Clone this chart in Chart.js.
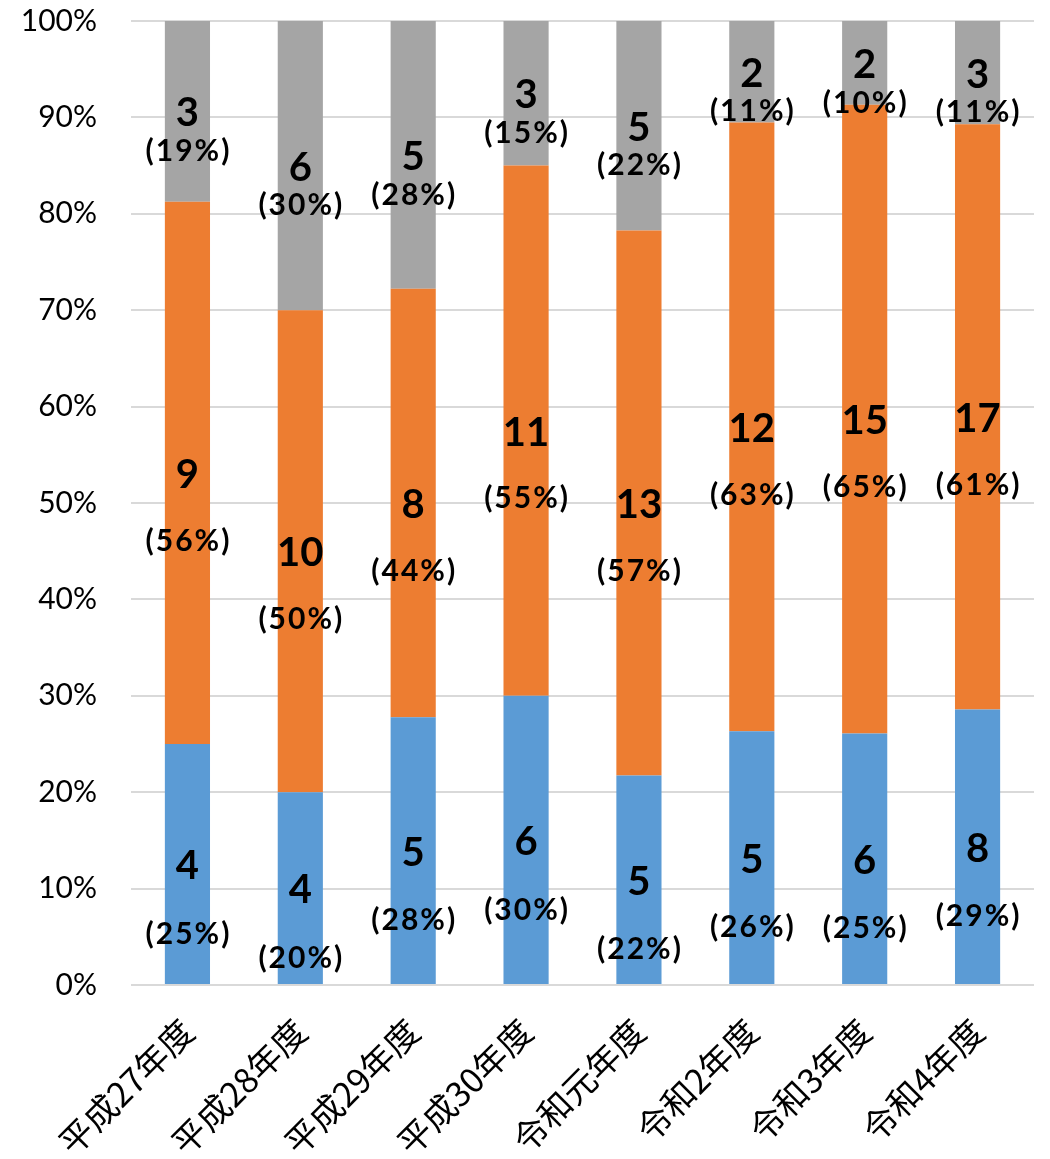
<!DOCTYPE html>
<html><head><meta charset="utf-8">
<script src="https://cdn.jsdelivr.net/npm/chart.js@4/dist/chart.umd.min.js"></script>
<style>html,body{margin:0;padding:0;background:#fff;}#wrap{width:1050px;height:1159px;}</style>
</head><body><div id="wrap"><canvas id="c" width="1050" height="1159"></canvas></div>
<script>
const categories = ['平成27年度','平成28年度','平成29年度','平成30年度','令和元年度','令和2年度','令和3年度','令和4年度'];
const blueCounts   = [4, 4, 5, 6, 5, 5, 6, 8];
const orangeCounts = [9, 10, 8, 11, 13, 12, 15, 17];
const grayCounts   = [3, 6, 5, 3, 5, 2, 2, 3];
const bluePctLabels   = ['25','20','28','30','22','26','25','29'];
const orangePctLabels = ['56','50','44','55','57','63','65','61'];
const grayPctLabels   = ['19','30','28','15','22','11','10','11'];
const yTicks = [0,10,20,30,40,50,60,70,80,90,100];

const totals = categories.map((_, i) => blueCounts[i] + orangeCounts[i] + grayCounts[i]);
const share = arr => arr.map((v, i) => v / totals[i] * 100);

const series = [
  {counts: blueCounts, pcts: bluePctLabels, color: '#5B9BD5', off: 70},
  {counts: orangeCounts, pcts: orangePctLabels, color: '#ED7D31', off: 68},
  {counts: grayCounts, pcts: grayPctLabels, color: '#A5A5A5', off: 40}
];

const labelPlugin = {
  id: 'segLabels',
  afterDatasetsDraw(chart) {
    const ctx = chart.ctx;
    ctx.save();
    ctx.fillStyle = '#000';
    ctx.textAlign = 'center';
    ctx.textBaseline = 'middle';
    series.forEach((s, di) => {
      const meta = chart.getDatasetMeta(di);
      meta.data.forEach((bar, i) => {
        const c = (bar.y + bar.base) / 2;
        ctx.letterSpacing = '0px';
        ctx.font = 'bold 40px Lato, "Open Sans", sans-serif';
        ctx.fillText(String(s.counts[i]), bar.x, c + 2);
        ctx.letterSpacing = '2px';
        ctx.font = 'bold 30px Lato, "Open Sans", sans-serif';
        ctx.fillText('(' + s.pcts[i] + '%)', bar.x + 1, c + s.off);
      });
    });
    ctx.restore();
  }
};

new Chart(document.getElementById('c'), {
  type: 'bar',
  data: {
    labels: categories,
    datasets: series.map(s => ({
      data: share(s.counts),
      backgroundColor: s.color,
      borderWidth: 0,
      barPercentage: 0.4,
      categoryPercentage: 1.0
    }))
  },
  options: {
    responsive: false,
    animation: false,
    devicePixelRatio: 1,
    layout: {padding: {top: 21, right: 16, left: 0, bottom: 0}},
    plugins: {legend: {display: false}, tooltip: {enabled: false}},
    scales: {
      x: {
        stacked: true,
        grid: {display: false, drawTicks: false},
        border: {display: false},
        ticks: {
          color: '#000', maxRotation: 45, minRotation: 45, autoSkip: false, padding: 26,
          font: {family: '"Noto Sans CJK JP", sans-serif', size: 34}
        },
        afterFit(scale) { scale.height = 174; scale.paddingLeft = 0; scale.paddingRight = 0; }
      },
      y: {
        stacked: true, min: 0, max: 100,
        afterBuildTicks(scale) { scale.ticks = yTicks.map(v => ({value: v})); },
        grid: {color: '#D9D9D9', lineWidth: 2, drawTicks: false},
        border: {display: false},
        ticks: {
          color: '#000', padding: 34,
          font: {family: 'Lato, "Open Sans", sans-serif', size: 30},
          callback: v => v + '%'
        },
        afterFit(scale) { scale.width = 131; scale.paddingTop = 0; scale.paddingBottom = 0; }
      }
    }
  },
  plugins: [labelPlugin]
});
</script></body></html>
